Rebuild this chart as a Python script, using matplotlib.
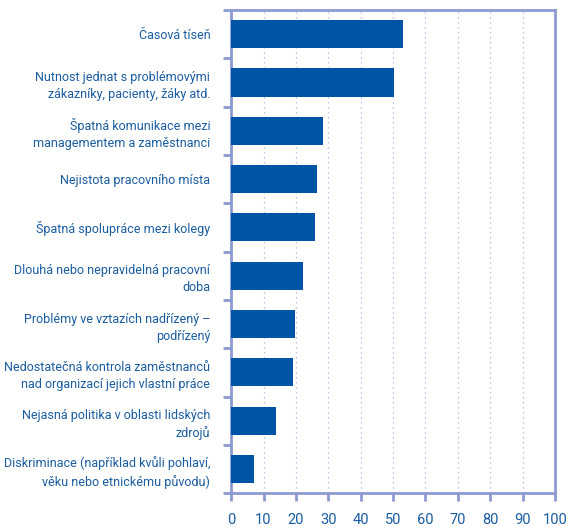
import matplotlib.pyplot as plt
import numpy as np

# Stress factors at work, share of respondents (%)
labels = [
    "Časová tíseň",
    "Nutnost jednat s problémovými\nzákazníky, pacienty, žáky atd.",
    "Špatná komunikace mezi\nmanagementem a zaměstnanci",
    "Nejistota pracovního místa",
    "Špatná spolupráce mezi kolegy",
    "Dlouhá nebo nepravidelná pracovní\ndoba",
    "Problémy ve vztazích nadřízený –\npodřízený",
    "Nedostatečná kontrola zaměstnanců\nnad organizací jejich vlastní práce",
    "Nejasná politika v oblasti lidských\nzdrojů",
    "Diskriminace (například kvůli pohlaví,\nvěku nebo etnickému původu)",
]
values = [53.1, 50.3, 28.4, 26.5, 25.9, 22.2, 19.8, 19.1, 13.9, 7.1]
x_ticks = list(range(0, 101, 10))

plt.rcParams["font.family"] = ["Roboto", "DejaVu Sans"]

bar_color = "#0054a6"
text_color = "#1a5ca0"
frame_color = "#8c9ad2"

fig = plt.figure(figsize=(5.68, 5.28), dpi=100)
ax = fig.add_axes([0.407, 0.066, 0.570, 0.915])

y = np.arange(len(labels))
ax.barh(y, values, height=0.58, color=bar_color, zorder=3)
ax.set_ylim(len(labels) - 0.5, -0.5)
ax.set_xlim(0, 100)

ax.set_xticks(x_ticks)
ax.set_xticklabels([str(t) for t in x_ticks], color=text_color, fontsize=10.5)
ax.set_yticks(y)
ax.set_yticklabels(labels, color=text_color, fontsize=9, linespacing=1.4)
ax.tick_params(axis="y", length=0, pad=15)
ax.tick_params(axis="x", length=6, width=2, color=frame_color, pad=8)

# boundary ticks between categories on the left spine
ax.set_yticks(np.arange(-0.5, len(labels), 1), minor=True)
ax.tick_params(axis="y", which="minor", length=6, width=2, color=frame_color)

ax.grid(axis="x", linestyle=(0, (1, 3)), color="#a8b2e0", linewidth=0.9, zorder=0)
for s in ax.spines.values():
    s.set_color(frame_color)
    s.set_linewidth(2)

fig.savefig("out.png", dpi=100)
